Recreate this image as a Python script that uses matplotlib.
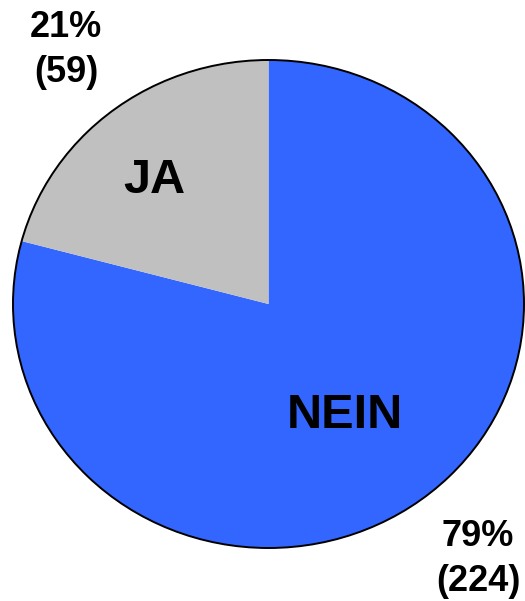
import matplotlib
matplotlib.use("Agg")
import matplotlib.pyplot as plt
from matplotlib.patches import Circle

# data
categories = ["NEIN", "JA"]
counts = [224, 59]
colors = ["#3366FF", "#C0C0C0"]

W, H = 525, 601
fig = plt.figure(figsize=(W / 100, H / 100), dpi=100)
# pie is slightly elliptical in the reference: span x 13..524 px, y 60..548 px
ax = fig.add_axes([13 / W, (H - 548) / H, 511 / W, 488 / H])

wedges, _ = ax.pie(
    counts,
    colors=colors,
    startangle=90,
    counterclock=False,
    radius=1.0,
    wedgeprops=dict(linewidth=0),
)
ax.add_patch(Circle((0, 0), 1.0, fill=False, edgecolor="black", lw=1.4, clip_on=False))
ax.set_aspect("auto")
ax.set_xlim(-1, 1)
ax.set_ylim(-1, 1)
ax.axis("off")

total = sum(counts)
font = dict(family=["Liberation Sans", "DejaVu Sans"], weight="bold", color="black")

# category names inside slices (baseline positions)
inner_pos = {"NEIN": (0.299, -0.508), "JA": (-0.446, 0.455)}
for cat in categories:
    x, y = inner_pos[cat]
    ax.text(x, y, cat, ha="center", va="baseline", fontsize=35, **font)

# percentage and count outside: (x, baseline pct, baseline count)
outer_pos = {"NEIN": (0.82, -0.99, -1.178), "JA": (-0.793, 1.094, 0.910)}
for cat, n in zip(categories, counts):
    x, y_pct, y_n = outer_pos[cat]
    ax.text(x, y_pct, f"{round(100 * n / total)}%", ha="center", va="baseline",
            fontsize=26, clip_on=False, **font)
    ax.text(x, y_n, f"({n})", ha="center", va="baseline",
            fontsize=26, clip_on=False, **font)

fig.savefig("out.png", dpi=100)
